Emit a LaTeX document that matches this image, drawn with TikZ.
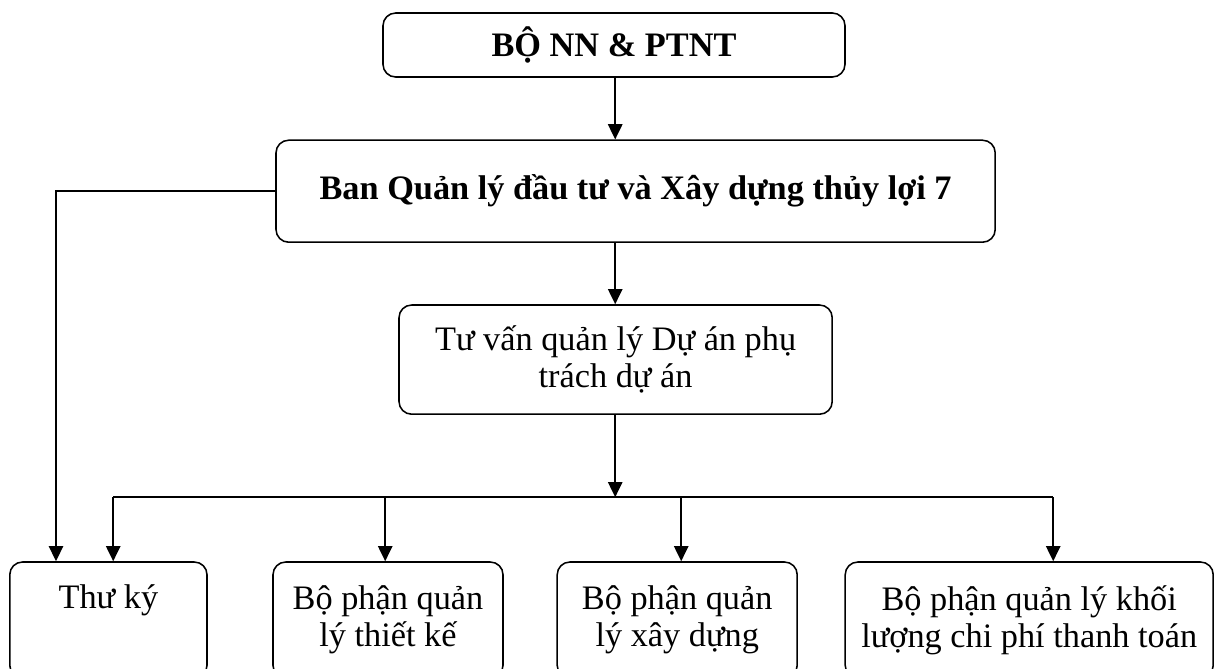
\documentclass[tikz,border=0pt]{standalone}
\usepackage{fontspec}
\setmainfont{Liberation Serif}
\usetikzlibrary{arrows.meta, positioning, calc}

\begin{document}
\begin{tikzpicture}[
  unit/.style={draw, line width=1.1pt, rounded corners=9pt, align=center,
               inner sep=0pt, font=\fontsize{24.4}{26}\selectfont},
  unitb/.style={unit, font=\fontsize{24.4}{26}\selectfont\bfseries},
  arr/.style={-{Triangle[length=0.38cm, width=0.36cm]}, line width=1.1pt}
]
  \useasboundingbox (0,0) rectangle (30.4,-16.7);

  % Upper levels
  \node[unitb, minimum width=11.55cm, minimum height=1.6cm] (bo) at (15.35,-1.125)
    {BỘ NN \& PTNT};
  \node[unitb, minimum width=17.98cm, minimum height=2.55cm] (ban) at (15.89,-4.78)
    {Ban Quản lý đầu tư và Xây dựng thủy lợi 7};
  \node[unit, minimum width=10.83cm, minimum height=2.73cm] (tuvan) at (15.39,-8.99)
    {Tư vấn quản lý Dự án phụ\\trách dự án};

  % Departments
  \node[unit, minimum width=4.93cm, minimum height=2.9cm] (thuky) at (2.71,-15.5)
    {Thư ký\\\strut};
  \node[unit, minimum width=5.75cm, minimum height=2.9cm] (thietke) at (9.7,-15.5)
    {Bộ phận quản\\lý thiết kế};
  \node[unit, minimum width=6cm, minimum height=2.9cm] (xaydung) at (16.93,-15.5)
    {Bộ phận quản\\lý xây dựng};
  \node[unit, minimum width=9.2cm, minimum height=2.9cm] (khoiluong) at (25.73,-15.5)
    {Bộ phận quản lý khối\\lượng chi phí thanh toán};

  % Connectors
  \coordinate (mid) at (15.38,0);
  \coordinate (lft) at (1.4,0);
  \coordinate (d1) at (2.83,-12.43);
  \coordinate (d2) at (9.63,-12.43);
  \coordinate (d3) at (17.03,-12.43);
  \coordinate (d4) at (26.33,-12.43);

  \draw[arr] (mid |- bo.south) -- (mid |- ban.north);
  \draw[arr] (mid |- ban.south) -- (mid |- tuvan.north);
  \draw[arr] (mid |- tuvan.south) -- (mid |- d1);
  \draw[line width=1.1pt] (d1) -- (d4);
  \foreach \d/\n in {d1/thuky, d2/thietke, d3/xaydung, d4/khoiluong}
    \draw[arr] (\d) -- (\d |- \n.north);
  \draw[arr] (ban.west) -| (lft |- thuky.north);
\end{tikzpicture}
\end{document}
